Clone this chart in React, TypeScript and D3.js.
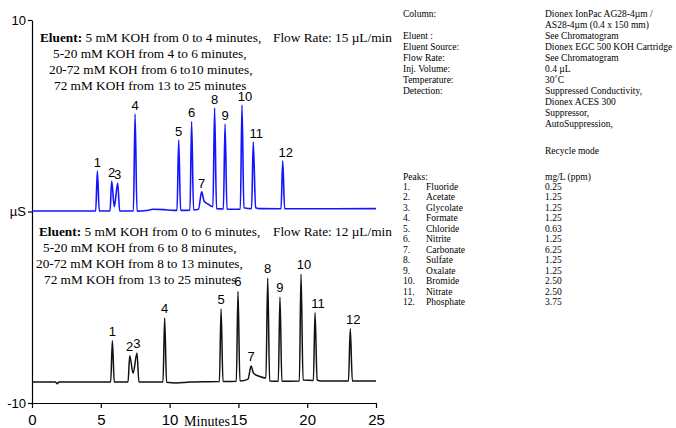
import React, { useRef, useEffect } from "react";
import * as d3 from "d3";

// --- data (time in minutes, signal in µS) ---
const peakNumbers = ["1", "2", "3", "4", "5", "6", "7", "8", "9", "10", "11", "12"];

// top run (blue), 15 µL/min
const blueTimes = [4.75, 5.79, 6.23, 7.49, 10.66, 11.6, 12.33, 13.27, 14.03, 15.26, 16.08, 18.22];
const blueTops = [2.11, 1.59, 1.49, 5.09, 3.73, 4.7, 1.03, 5.4, 4.57, 5.56, 3.64, 2.65];
const blueBaseline: [number, number][] = [
  [0, 0.03], [4.63, 0.03], [4.89, 0.03], [5.67, 0.03], [5.98, 0.25], [6.37, 0.03],
  [7.37, 0.03], [7.63, 0.02], [8.3, 0.05], [8.8, 0.12], [9.6, 0.1], [10.3, 0.06],
  [10.54, 0.06], [10.8, 0.06], [11.48, 0.07], [11.74, 0.08], [12.1, 0.12], [12.5, 0.55],
  [12.8, 0.38], [13.15, 0.25], [13.41, 0.15], [13.91, 0.13], [14.17, 0.12], [15.14, 0.12],
  [15.4, 0.2], [15.96, 0.15], [16.25, 0.2], [16.6, 0.15], [18.1, 0.14], [18.36, 0.14], [25, 0.15],
];

// bottom run (black), 12 µL/min
const blackTimes = [5.84, 7.1, 7.63, 9.64, 13.74, 14.97, 15.92, 17.13, 18.02, 19.55, 20.57, 23.13];
const blackTops = [-6.75, -7.53, -7.39, -5.56, -5.09, -4.17, -8.07, -3.47, -4.46, -3.26, -5.28, -6.12];
const blackBaseline: [number, number][] = [
  [0, -8.9], [1.7, -8.9], [1.84, -9.0], [1.95, -8.9], [5.72, -8.9], [5.98, -8.9],
  [6.98, -8.9], [7.35, -8.45], [7.77, -8.9], [9.52, -8.9], [9.78, -8.92], [10.5, -8.95],
  [11.5, -8.9], [13.62, -8.88], [13.88, -8.88], [14.85, -8.87], [15.11, -8.85], [15.7, -8.75],
  [16.1, -8.45], [16.5, -8.6], [17.0, -8.7], [17.27, -8.85], [17.9, -8.87], [18.16, -8.87],
  [19.43, -8.85], [19.7, -8.8], [20.45, -8.82], [20.72, -8.8], [21, -8.85], [23.0, -8.85],
  [23.28, -8.85], [25, -8.85],
];

const xTicks = [0, 5, 10, 15, 20, 25];
const yTicks = [10, 0, -10];
const yTickLabels = ["10", "µS", "-10"];

const topEluent = [
  "5 mM KOH from 0 to 4 minutes,",
  "5-20 mM KOH from 4 to 6 minutes,",
  "20-72 mM KOH from 6 to10 minutes,",
  "72 mM KOH from 13 to 25 minutes",
];
const bottomEluent = [
  "5 mM KOH from 0 to 6 minutes,",
  "5-20 mM KOH from 6 to 8 minutes,",
  "20-72 mM KOH from 8 to 13 minutes,",
  "72 mM KOH from 13 to 25 minutes",
];
const flowRates = ["Flow Rate: 15 µL/min", "Flow Rate: 12 µL/min"];

const conditionLabels = ["Column:", "", "Eluent :", "Eluent Source:", "Flow Rate:", "Inj. Volume:", "Temperature:", "Detection:", "", "", ""];
const conditionValues = [
  "Dionex IonPac AG28-4µm /",
  "AS28-4µm  (0.4 x 150 mm)",
  "See Chromatogram",
  "Dionex EGC 500 KOH Cartridge",
  "See Chromatogram",
  "0.4 µL",
  "30˚C",
  "Suppressed Conductivity,",
  "Dionex ACES 300",
  "Suppressor,",
  "AutoSuppression,",
];
const peakNames = ["Fluoride", "Acetate", "Glycolate", "Formate", "Chloride", "Nitrite", "Carbonate", "Sulfate", "Oxalate", "Bromide", "Nitrate", "Phosphate"];
const peakConc = ["0.25", "1.25", "1.25", "1.25", "0.63", "1.25", "6.25", "1.25", "1.25", "2.50", "2.50", "3.75"];

const W = 676;
const H = 428;
const serif = "'Liberation Serif', 'Times New Roman', serif";
const sans = "'Liberation Sans', Arial, sans-serif";

function buildTrace(base: [number, number][], times: number[], tops: number[]) {
  const pts = base.concat(times.map((t, i) => [t, tops[i]] as [number, number]));
  return pts.sort((a, b) => a[0] - b[0]);
}

const App = () => {
  const axesRef = useRef<SVGGElement>(null);

  const x = d3.scaleLinear().domain([0, 25]).range([32, 376]);
  const y = d3.scaleLinear().domain([-10, 10]).range([403, 20]);

  const line = d3
    .line<[number, number]>()
    .x((d) => x(d[0]))
    .y((d) => y(d[1]))
    .curve(d3.curveMonotoneX);

  const blueTrace = buildTrace(blueBaseline, blueTimes, blueTops);
  const blackTrace = buildTrace(blackBaseline, blackTimes, blackTops);

  useEffect(() => {
    if (!axesRef.current) return;
    const g = d3.select(axesRef.current);
    g.selectAll("*").remove();

    const xa = g
      .append("g")
      .attr("transform", `translate(0,${y(-10)})`)
      .call(d3.axisBottom(x).tickValues(xTicks).tickSize(5).tickSizeOuter(0).tickPadding(6));
    xa.selectAll("text").attr("font-family", sans).attr("font-size", 15).attr("fill", "#000");

    const ya = g
      .append("g")
      .attr("transform", `translate(${x(0)},0)`)
      .call(
        d3
          .axisLeft(y)
          .tickValues(yTicks)
          .tickSize(4)
          .tickSizeOuter(0)
          .tickPadding(2)
          .tickFormat((d, i) => yTickLabels[i])
      );
    ya.selectAll("text").attr("font-family", sans).attr("font-size", 13).attr("fill", "#000");

    g.selectAll("path.domain, line").attr("stroke", "#000").attr("stroke-width", 1.2);
  }, []);

  const eluentBlock = (lines: string[], starts: number[], base: number, flow: string) => (
    <g fontFamily={serif} fontSize={13.3} fill="#000">
      {lines.map((l, i) => (
        <text key={i} x={starts[i]} y={base + i * 16}>
          {i === 0 && <tspan fontWeight="bold">Eluent: </tspan>}
          {l}
        </text>
      ))}
      <text x={273} y={base}>{flow}</text>
    </g>
  );

  return (
    <svg
      width={W}
      height={H}
      style={{ position: "absolute", left: 0, top: 0, background: "#fff" }}
    >
      <g ref={axesRef} />

      <path d={line(blueTrace) || ""} fill="none" stroke="#1414ff" strokeWidth={1.6} />
      <path d={line(blackTrace) || ""} fill="none" stroke="#111" strokeWidth={1.5} />

      <g fontFamily={sans} fontSize={13} fill="#000" textAnchor="middle">
        {blueTimes.map((t, i) => (
          <text key={"b" + i} x={x(t) + (peakNumbers[i].length > 1 ? 3 : 0)} y={y(blueTops[i]) - 4}>
            {peakNumbers[i]}
          </text>
        ))}
        {blackTimes.map((t, i) => (
          <text key={"k" + i} x={x(t) + (peakNumbers[i].length > 1 ? 3 : 0)} y={y(blackTops[i]) - 5}>
            {peakNumbers[i]}
          </text>
        ))}
      </g>

      {eluentBlock(topEluent, [40, 53, 49, 54], 42, flowRates[0])}
      {eluentBlock(bottomEluent, [39, 43, 36, 44], 235.5, flowRates[1])}

      <text x={207} y={426} fontFamily={serif} fontSize={14} textAnchor="middle">
        Minutes
      </text>

      {/* conditions panel */}
      <g fontFamily={serif} fontSize={9.5} fill="#000">
        {conditionLabels.map((l, i) => (
          <text key={"cl" + i} x={403} y={17 + i * 11}>{l}</text>
        ))}
        {conditionValues.map((v, i) => (
          <text key={"cv" + i} x={545} y={17 + i * 11}>{v}</text>
        ))}
        <text x={545} y={154}>Recycle mode</text>
        <text x={403} y={180}>Peaks:</text>
        <text x={545} y={180}>mg/L (ppm)</text>
        {peakNames.map((n, i) => (
          <g key={"p" + i}>
            <text x={403} y={190 + i * 10.45}>{peakNumbers[i] + "."}</text>
            <text x={426} y={190 + i * 10.45}>{n}</text>
            <text x={545} y={190 + i * 10.45}>{peakConc[i]}</text>
          </g>
        ))}
      </g>
    </svg>
  );
};

export default App;
